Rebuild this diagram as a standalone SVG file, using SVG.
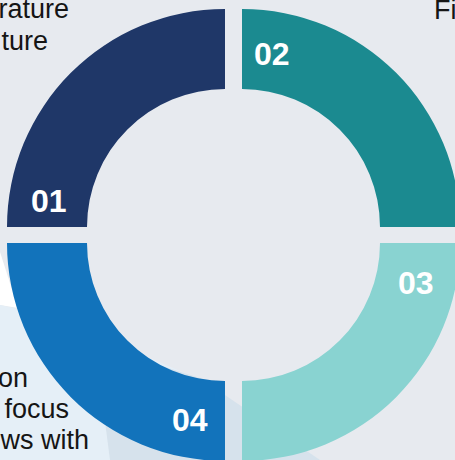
<svg xmlns="http://www.w3.org/2000/svg" width="455" height="460" viewBox="0 0 455 460">
<style>
.lbl{font-family:"Liberation Sans",Arial,sans-serif;font-weight:bold;font-size:32px;fill:#ffffff}
.txt{font-family:"Liberation Sans",Arial,sans-serif;font-size:27px;fill:#151515}
</style>
<rect x="0" y="0" width="455" height="460" fill="#e7eaef"/>
<g id="decor">
<polygon points="0,252 18,308 0,305" fill="#ffffff"/>
<polygon points="0,305 60,318 200,380 320,460 0,460" fill="#e5eff7"/>
<polygon points="95,345 200,378 320,460 110,460" fill="#d6e2ec"/>
</g>
<g id="seg01">
<path d="M7,227 A218,218 0 0 1 225,9 L225,89 A138,138 0 0 0 87,227 Z" fill="#1f3768"/>
<text class="lbl" x="31" y="212">01</text>
</g>
<g id="seg02">
<path d="M242,9 A218,218 0 0 1 460,227 L380,227 A138,138 0 0 0 242,89 Z" fill="#1b8a90"/>
<text class="lbl" x="254" y="65">02</text>
</g>
<g id="seg03">
<path d="M460,243 A218,218 0 0 1 242,461 L242,381 A138,138 0 0 0 380,243 Z" fill="#89d3d1"/>
<text class="lbl" x="398" y="294">03</text>
</g>
<g id="seg04">
<path d="M225,461 A218,218 0 0 1 7,243 L87,243 A138,138 0 0 0 225,381 Z" fill="#1273bb"/>
<text class="lbl" x="172" y="431">04</text>
</g>
<g id="texts">
<text class="txt" x="69" y="18" text-anchor="end">rature</text>
<text class="txt" x="48" y="50" text-anchor="end">ture</text>
<text class="txt" x="434" y="19">Fi</text>
<text class="txt" x="28" y="387" text-anchor="end">on</text>
<text class="txt" x="69" y="418" text-anchor="end">focus</text>
<text class="txt" x="89" y="449" text-anchor="end">ws with</text>
</g>
<g id="connectors"/>
</svg>
